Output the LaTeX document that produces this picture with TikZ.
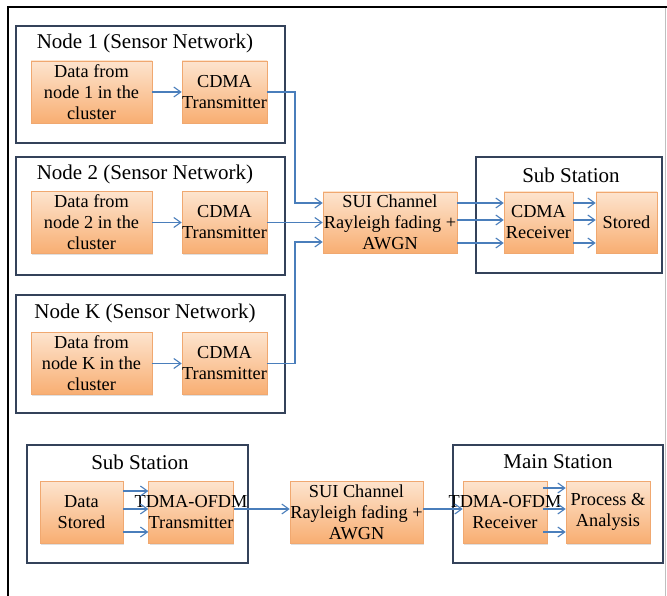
\documentclass[tikz,border=0pt]{standalone}
\usepackage{fontspec}
\setmainfont{Liberation Serif}
\usetikzlibrary{arrows.meta,calc,shadows}
\definecolor{boxtop}{HTML}{FDE4CE}
\definecolor{boxbot}{HTML}{F8AE72}
\definecolor{boxline}{HTML}{F0A870}
\definecolor{framecol}{HTML}{34425A}
\definecolor{arrowcol}{HTML}{4A7EBB}
\tikzset{
  stepbox/.style={draw=boxline, line width=0.6pt, top color=boxtop, bottom color=boxbot,
    minimum height=62pt, inner sep=0pt, align=center,
    font=\fontsize{18.3}{21}\selectfont,
    drop shadow={opacity=0.25, shadow xshift=1pt, shadow yshift=-1.5pt}},
  groupbox/.style={draw=framecol, line width=2.4pt, fill=white, inner sep=0pt},
  grouptitle/.style={font=\fontsize{21}{24}\selectfont, inner sep=0pt},
  arr/.style={draw=arrowcol, line width=1.1pt, -{Straight Barb[length=7pt,width=10pt]}},
  link/.style={draw=arrowcol, line width=1.1pt}
}
\begin{document}
\begin{tikzpicture}[x=1pt,y=-1pt]
\useasboundingbox (0,0) rectangle (667,596);
% outer frame
\draw[line width=2pt, black] (8,600) -- (8,7) -- (670,7);
\draw[line width=0.8pt, black!25] (665,8) -- (665,600);

% ---------- Node 1 ----------
\node[groupbox, minimum width=269pt, minimum height=117pt] (g1) at (150.5,84.5) {};
\node[grouptitle] (t1) at (145,43) {Node 1 (Sensor Network)};
\node[stepbox, minimum width=121pt] (d1) at (91.5,92) {Data from\\node 1 in the\\cluster};
\node[stepbox, minimum width=85pt] (x1) at (224.5,92) {CDMA\\Transmitter};

% ---------- Node 2 ----------
\node[groupbox, minimum width=269pt, minimum height=118pt] (g2) at (150.5,216) {};
\node[grouptitle] (t2) at (145,174) {Node 2 (Sensor Network)};
\node[stepbox, minimum width=121pt] (d2) at (91.5,222.5) {Data from\\node 2 in the\\cluster};
\node[stepbox, minimum width=85pt] (x2) at (224.5,222.5) {CDMA\\Transmitter};

% ---------- Node K ----------
\node[groupbox, minimum width=269pt, minimum height=118pt] (gk) at (150.5,354) {};
\node[grouptitle] (tk) at (145,313) {Node K (Sensor Network)};
\node[stepbox, minimum width=121pt] (dk) at (91.5,363.5) {Data from\\node K in the\\cluster};
\node[stepbox, minimum width=85pt] (xk) at (224.5,363.5) {CDMA\\Transmitter};

% ---------- SUI channel (top) ----------
\node[stepbox, minimum width=134pt, minimum height=61pt] (s1) at (390,222.5) {SUI Channel\\Rayleigh fading +\\AWGN};

% ---------- Sub Station (top) ----------
\node[groupbox, minimum width=186pt, minimum height=116pt] (gs) at (569,215) {};
\node[grouptitle] (ts) at (571,175) {Sub Station};
\node[stepbox, minimum width=69pt, minimum height=61pt] (r1) at (538.5,222.5) {CDMA\\Receiver};
\node[stepbox, minimum width=61pt, minimum height=61pt] (st) at (626.5,222.5) {Stored};

% ---------- Sub Station (bottom) ----------
\node[groupbox, minimum width=221pt, minimum height=118pt] (gb) at (137.5,504) {};
\node[grouptitle] (tb) at (140,462) {Sub Station};
\node[stepbox, minimum width=83pt] (ds) at (81.5,512) {Data\\Stored};
\node[stepbox, minimum width=84pt] (tx) at (191,512) {\makebox[0pt]{TDMA-OFDM}\\Transmitter};

% ---------- SUI channel (bottom) ----------
\node[stepbox, minimum width=133pt] (s2) at (356.5,512) {SUI Channel\\Rayleigh fading +\\AWGN};

% ---------- Main Station ----------
\node[groupbox, minimum width=210pt, minimum height=118pt] (gm) at (558,504) {};
\node[grouptitle] (tm) at (558,462) {Main Station};
\node[stepbox, minimum width=84pt] (rx) at (505,512) {\makebox[0pt]{TDMA-OFDM}\\Receiver};
\node[stepbox, minimum width=84pt] (pa) at (608,512) {Process \&\\Analysis};

% ---------- connectors ----------
\coordinate (bus) at (295,0);
\draw[arr] (d1) -- (x1);
\draw[arr] (d2) -- (x2);
\draw[arr] (dk) -- (xk);

\draw[arr] (x1.east) -| ($(bus |- s1.west)+(0,-19.5)$) -- ($(s1.west)+(0,-19.5)$);
\draw[arr] (x2.east) -- (x2.east -| s1.west);
\draw[arr] (xk.east) -| ($(bus |- s1.west)+(0,19.5)$) -- ($(s1.west)+(0,19.5)$);

\foreach \o in {-19.5,-2.5,20.5}{
  \draw[arr] ($(s1.east)+(0,\o)$) -- ($(r1.west)+(0,\o)$);
  \draw[arr] ($(r1.east)+(0,\o)$) -- ($(st.west)+(0,\o)$);
}

\foreach \o in {-21,-3,20}{
  \draw[arr] ($(ds.east)+(0,\o)$) -- ($(tx.west)+(0,\o)$);
}
\draw[arr] ($(tx.east)+(0,-3)$) -- ($(s2.west)+(0,-3)$);
\draw[arr] ($(s2.east)+(0,-3)$) -- ($(rx.west)+(0,-3)$);
\foreach \o in {-24,-3,20}{
  \draw[arr] ($(rx.east)+(-4,\o)$) -- ($(pa.west)+(0,\o)$);
}
\end{tikzpicture}
\end{document}
